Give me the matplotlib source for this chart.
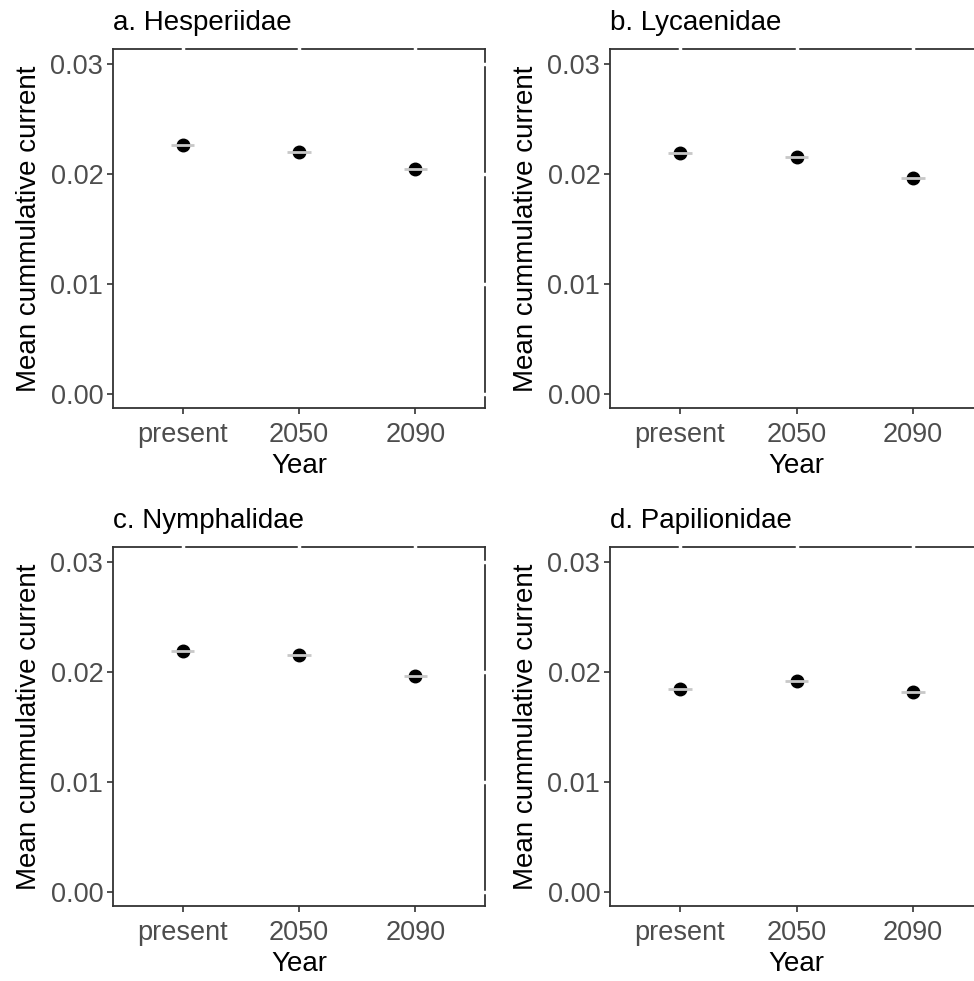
import matplotlib
matplotlib.use("Agg")
import matplotlib.pyplot as plt
import numpy as np

plt.rcParams['font.family'] = ['Liberation Sans', 'DejaVu Sans']

categories = ["present", "2050", "2090"]
titles = ["a. Hesperiidae", "b. Lycaenidae", "c. Nymphalidae", "d. Papilionidae"]
hesperiidae = [0.0227, 0.0220, 0.0205]
lycaenidae = [0.0219, 0.0216, 0.0197]
nymphalidae = [0.0219, 0.0216, 0.0197]
papilionidae = [0.0185, 0.0192, 0.0182]
series = [hesperiidae, lycaenidae, nymphalidae, papilionidae]
yticks = [0.00, 0.01, 0.02, 0.03]
ytick_labels = ["0.00", "0.01", "0.02", "0.03"]

W, H = 974, 981
fig = plt.figure(figsize=(W / 100, H / 100), dpi=100)

# panel boxes in pixel coords (left, right, top, bottom)
boxes = [(113, 485, 49, 408), (610, 983, 49, 408),
         (113, 485, 547, 906), (610, 983, 547, 906)]

grey_txt = "#4D4D4D"
for box, vals, title in zip(boxes, series, titles):
    l, r, t, b = box
    ax = fig.add_axes([l / W, 1 - b / H, (r - l) / W, (b - t) / H])
    x = np.arange(1, len(categories) + 1)
    ax.plot(x, vals, 'o', color='black', markersize=9, zorder=3)
    for xi, v in zip(x, vals):
        ax.plot([xi - 0.1, xi + 0.1], [v, v], color='#C8C8C8', lw=2.0, zorder=4,
                solid_capstyle='butt')
    ax.set_xlim(0.4, 3.6)
    ax.set_ylim(-0.00127, 0.0314)
    ax.set_xticks(x)
    ax.set_xticklabels(categories)
    ax.set_yticks(yticks)
    ax.set_yticklabels(ytick_labels)
    ax.tick_params(axis='both', labelsize=19.5, labelcolor=grey_txt, color='#333333',
                   length=4, width=1.2)
    ax.tick_params(axis='x', pad=6)
    ax.tick_params(axis='y', pad=3)
    for s in ax.spines.values():
        s.set_color('#333333')
        s.set_linewidth(1.3)
    ax.set_xlabel("Year", fontsize=20, color='black', labelpad=4)
    ax.set_ylabel("Mean cummulative current", fontsize=20, color='black', labelpad=6)
    ax.set_title(title, fontsize=20, loc='left', pad=14, color='black')
    # small white gaps on the top/right border, as in the reference
    for xi in x:
        ax.plot([xi, xi], [0.0314 - 0.0003, 0.0314 + 0.0003], color='white', lw=2.5,
                clip_on=False, zorder=5)
    for yv in yticks:
        ax.plot([3.6 - 0.012, 3.6 + 0.012], [yv, yv], color='white', lw=2.5,
                clip_on=False, zorder=5)

fig.savefig("out.png", dpi=100, facecolor='white')
